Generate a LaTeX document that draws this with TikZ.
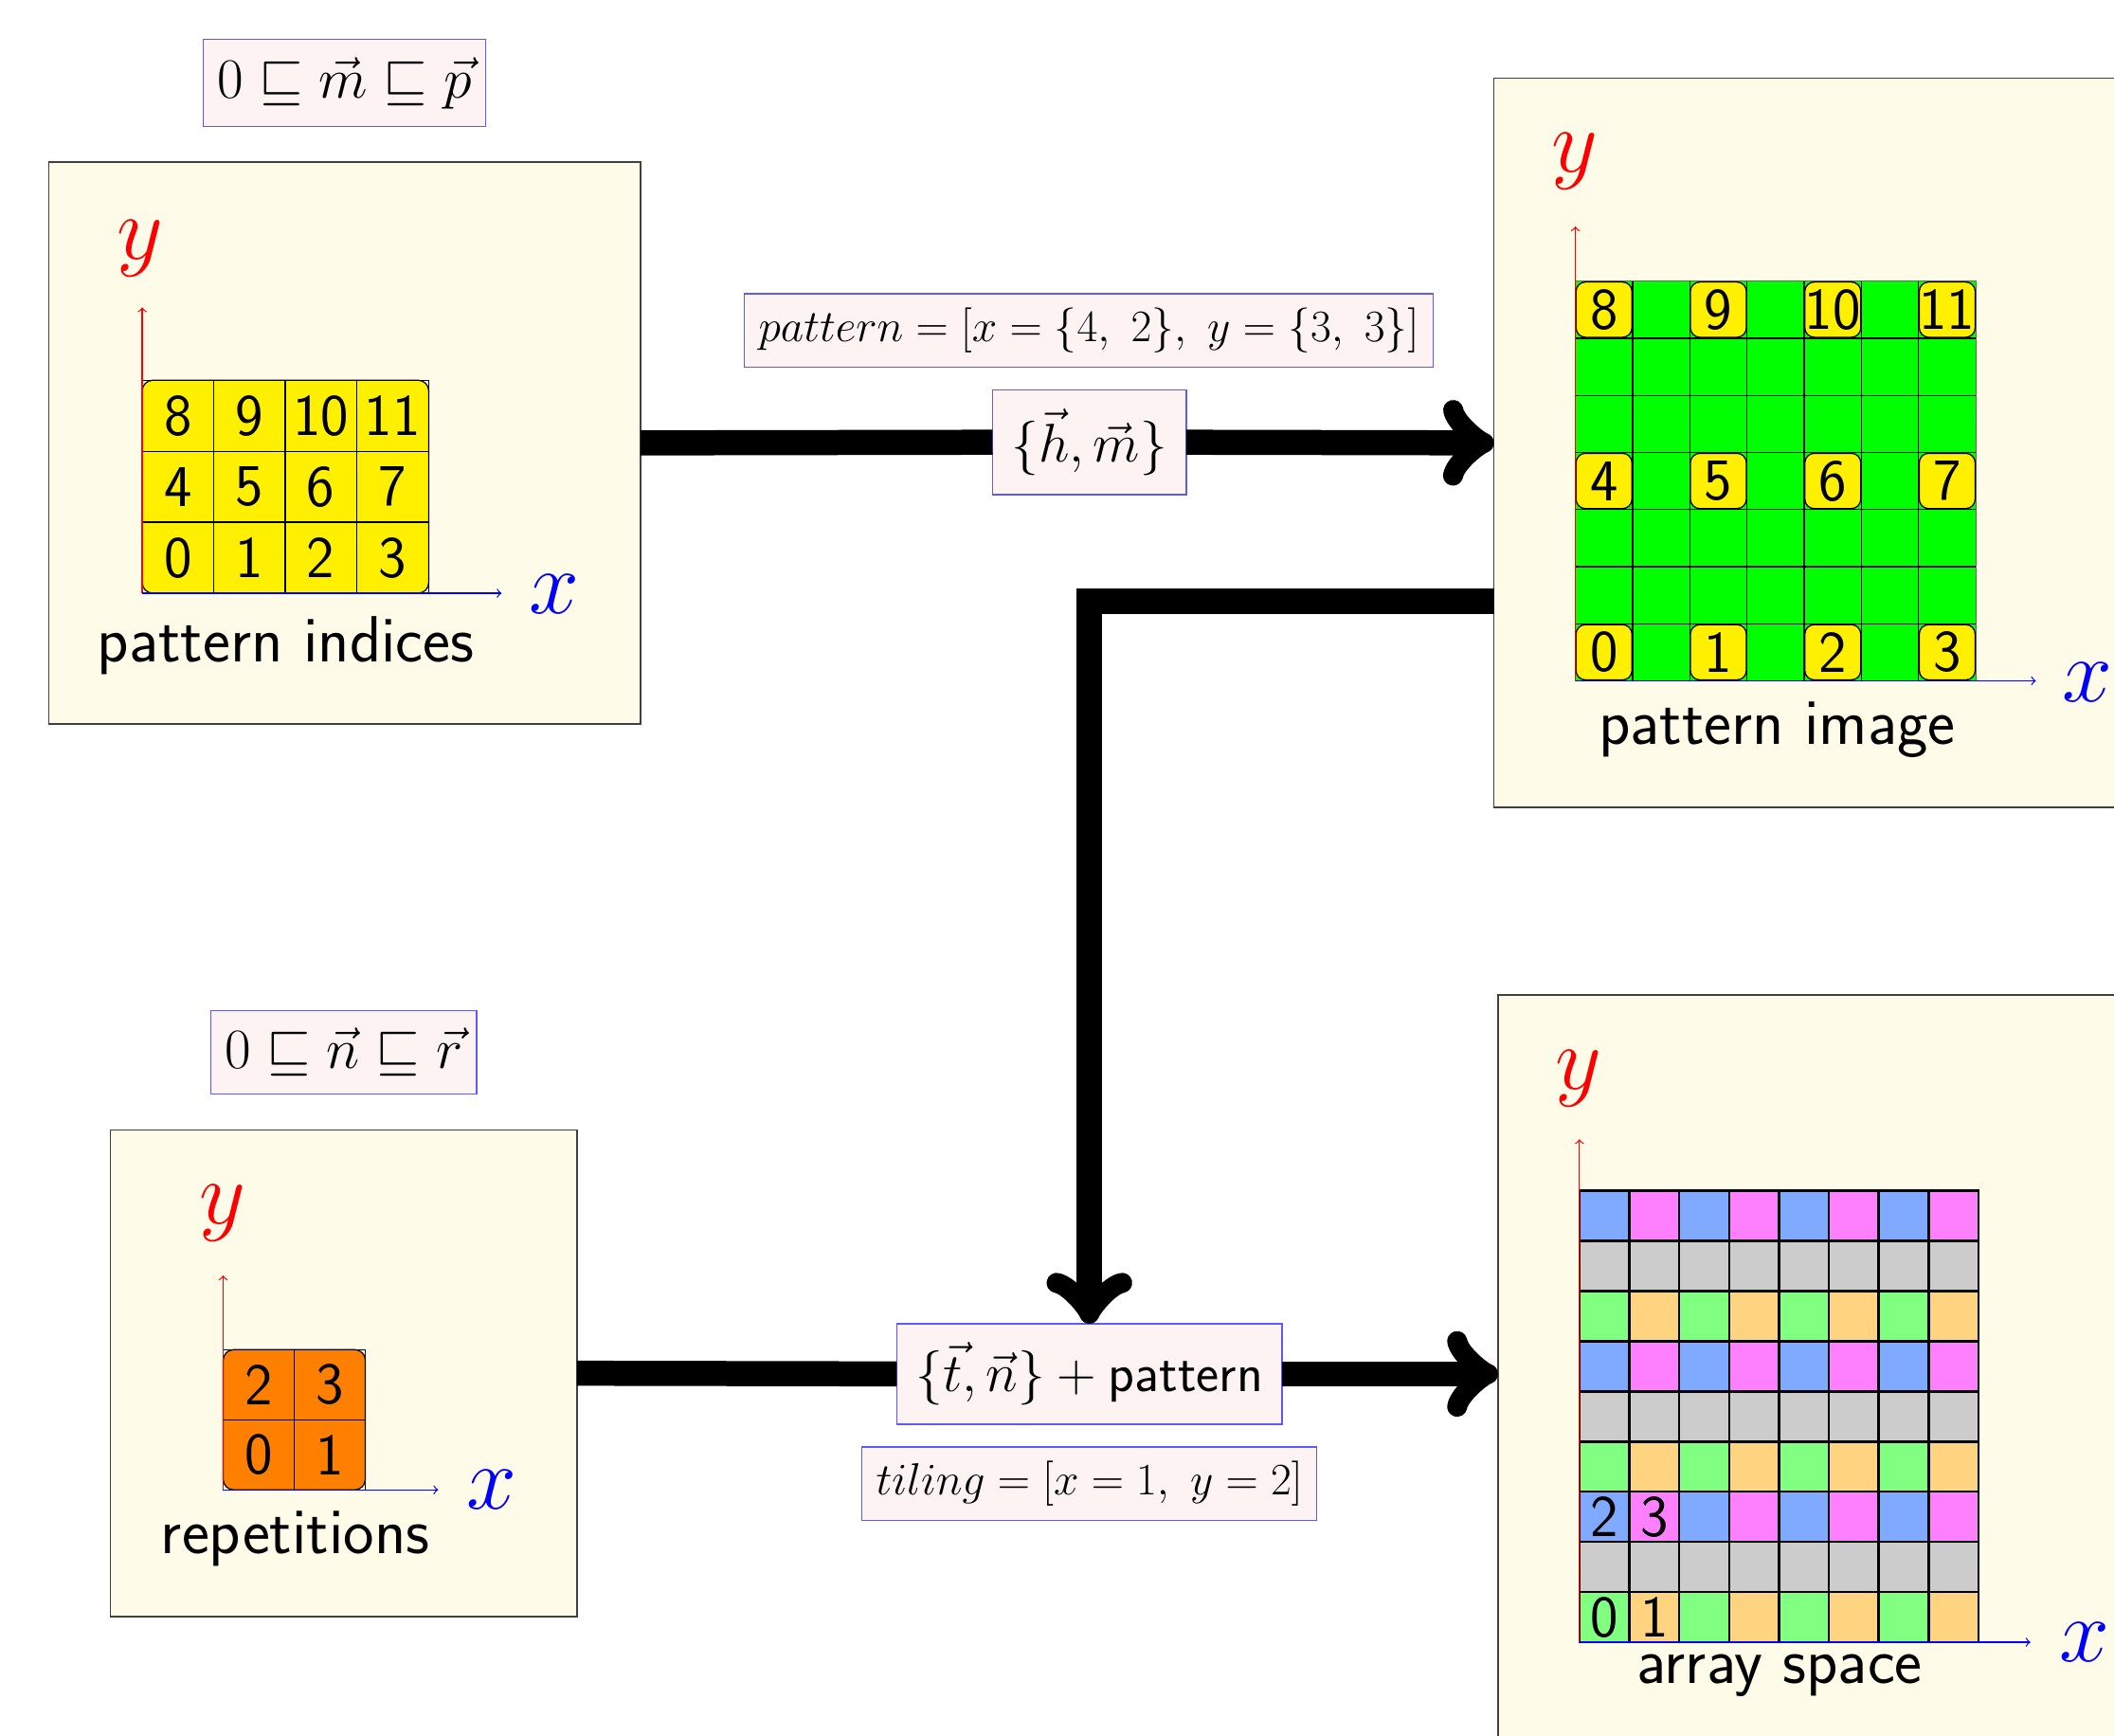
\documentclass[tikz,border=0pt]{standalone}
\usepackage{fix-cm}
\definecolor{cream}{RGB}{254,251,233}
\definecolor{lblpink}{RGB}{253,243,243}
\definecolor{lblblue}{RGB}{90,90,255}
\definecolor{cyel}{RGB}{255,240,0}
\definecolor{cgreen}{RGB}{0,255,0}
\definecolor{corange}{RGB}{255,128,0}
\definecolor{tblue}{RGB}{128,170,255}
\definecolor{tpink}{RGB}{255,128,255}
\definecolor{tgreen}{RGB}{128,255,128}
\definecolor{torange}{RGB}{255,212,128}
\definecolor{tgray}{RGB}{204,204,204}
\tikzset{
  panel/.style={draw=black!75, fill=cream, line width=0.6pt, inner sep=0pt, outer sep=0pt},
  lbl/.style={draw=lblblue, fill=lblpink, line width=0.6pt, inner xsep=6pt, inner ysep=7.5pt, outer sep=0pt,
    font=\fontsize{24}{28}\selectfont},
  lblsmall/.style={lbl, inner ysep=6pt, font=\fontsize{19}{23}\selectfont},
  lblbig/.style={lbl, inner sep=8pt, font=\fontsize{23}{28}\selectfont},
  flow/.style={line width=10.6pt},
  flowarrow/.style={flow, ->},
  axx/.style={blue, ->, line width=0.5pt},
  axy/.style={red, ->, line width=0.5pt},
  axlbl/.style={font=\fontsize{38}{40}\selectfont, inner sep=0pt},
  capt/.style={font=\sffamily\fontsize{27.6}{32}\selectfont, inner sep=0pt},
  num/.style={font=\sffamily\fontsize{25}{28}\selectfont, inner sep=0pt},
  gridline/.style={draw=black, line width=0.5pt},
  ybox/.style={draw=black, line width=0.5pt, fill=cyel, rounded corners=4pt,
    minimum width=0.83cm, minimum height=0.82cm, inner sep=0pt,
    font=\sffamily\fontsize{25}{28}\selectfont},
  tcell/.style={draw=black, line width=1pt},
}
\begin{document}
\begin{tikzpicture}[x=0.02cm,y=-0.02cm]
\useasboundingbox (0,0) rectangle (1568,1287);
\clip (0,0) rectangle (1568,1287);

% ---------- panels ----------
\node[panel, minimum width=8.78cm, minimum height=8.34cm] (A) at (255.5,328.5) {};
\node[panel, minimum width=11.2cm, minimum height=10.82cm] (B) at (1388,328.5) {};
\node[panel, minimum width=6.92cm, minimum height=7.22cm] (C) at (255,1018.5) {};
\node[panel, minimum width=11.2cm, minimum height=11.24cm] (D) at (1391,1019) {};

% ---------- panel A: pattern indices ----------
\draw[line width=0.4pt] (105.5,282) rectangle (318,440);
\draw[fill=cyel, line width=0.5pt, rounded corners=4.5pt] (105.5,282) rectangle (318,440);
\foreach \i in {1,2,3} \draw[gridline] (105.5+53*\i,282) -- (105.5+53*\i,440);
\foreach \j in {1,2} \draw[gridline] (105.5,440-52.67*\j) -- (318,440-52.67*\j);
\foreach \r in {0,1,2} {
  \foreach \c in {0,1,2,3} {
    \pgfmathtruncatemacro{\n}{4*\r+\c}
    \node[num] (a\n) at (105.5+53*\c+26.5, 440-52.67*\r-26.3) {\n};
  }
}
\draw[axy] (105.5,440) -- (105.5,228);
\draw[axx] (105.5,440) -- (372,440);
\node[axlbl, text=red] (Ay) at (104,184) {$y$};
\node[axlbl, text=blue] (Ax) at (411,441) {$x$};
\node[capt] (Acap) at (212,479) {pattern indices};

% ---------- panel B: pattern image ----------
\fill[cgreen] (1168.5,208.5) rectangle (1465.5,505);
\draw[line width=0.4pt, black!60] (1168.5,208.5) rectangle (1465.5,505);
\foreach \i in {1,...,6} \draw[gridline] (1168.5+42.43*\i,208.5) -- (1168.5+42.43*\i,505);
\foreach \j in {1,...,6} \draw[gridline] (1168.5,505-42.36*\j) -- (1465.5,505-42.36*\j);
\foreach \r in {0,1,2} {
  \foreach \c in {0,1,2,3} {
    \pgfmathtruncatemacro{\n}{4*\r+\c}
    \node[ybox] (b\n) at (1168.5+84.86*\c+21.2, 505-127.08*\r-21.2) {\n};
  }
}
\draw[axy] (1168.5,505) -- (1168.5,168);
\draw[axx] (1168.5,505) -- (1510,505);
\node[axlbl, text=red] (By) at (1168,120) {$y$};
\node[axlbl, text=blue] (Bx) at (1548,506) {$x$};
\node[capt] (Bcap) at (1318,541) {pattern image};

% ---------- panel C: repetitions ----------
\draw[line width=0.4pt] (165.5,1001) rectangle (271,1105);
\draw[fill=corange, line width=0.5pt, rounded corners=4.5pt] (165.5,1001) rectangle (271,1105);
\draw[gridline] (218.25,1001) -- (218.25,1105);
\draw[gridline] (165.5,1053) -- (271,1053);
\foreach \r in {0,1} {
  \foreach \c in {0,1} {
    \pgfmathtruncatemacro{\n}{2*\r+\c}
    \node[num] (c\n) at (165.5+52.75*\c+26.4, 1105-52*\r-26) {\n};
  }
}
\draw[axy] (165.5,1105) -- (165.5,946);
\draw[axx] (165.5,1105) -- (325,1105);
\node[axlbl, text=red] (Cy) at (165,900) {$y$};
\node[axlbl, text=blue] (Cx) at (365,1105) {$x$};
\node[capt] (Ccap) at (219,1141) {repetitions};

% ---------- panel D: array space ----------
\foreach \r in {0,...,8} {
  \foreach \c in {0,...,7} {
    \pgfmathtruncatemacro{\rm}{mod(\r,3)}
    \pgfmathtruncatemacro{\cm}{mod(\c,2)}
    \ifnum\rm=1
      \def\cc{tgray}
    \else
      \ifnum\rm=0
        \ifnum\cm=0 \def\cc{tgreen}\else \def\cc{torange}\fi
      \else
        \ifnum\cm=0 \def\cc{tblue}\else \def\cc{tpink}\fi
      \fi
    \fi
    \draw[tcell, fill=\cc] (1171.5+37*\c,1218-37.2*\r) rectangle ++(37,-37.2);
  }
}
\node[num] (d0) at (1171.5+18.5,1218-18.6) {0};
\node[num] (d1) at (1171.5+55.5,1218-18.6) {1};
\node[num] (d2) at (1171.5+18.5,1218-93) {2};
\node[num] (d3) at (1171.5+55.5,1218-93) {3};
\draw[axy] (1171.5,1218) -- (1171.5,845);
\draw[axx] (1171.5,1218) -- (1506,1218);
\node[axlbl, text=red] (Dy) at (1171,800) {$y$};
\node[axlbl, text=blue] (Dx) at (1546,1218) {$x$};
\node[capt] (Dcap) at (1320,1243) {array space};

% ---------- labels ----------
\node[lbl] (LM) at (255.5,61.5) {$0 \sqsubseteq \vec{m} \sqsubseteq \vec{p}$};
\node[lbl] (LN) at (255,780.5) {$0 \sqsubseteq \vec{n} \sqsubseteq \vec{r}$};
\node[lblsmall] (LP) at (807.5,245) {$pattern = [x = \{4,\ 2\},\ y = \{3,\ 3\}]$};
\node[lblsmall] (LT) at (808,1100.5) {$tiling = [x = 1,\ y = 2]$};
\node[lblbig] (HM) at (808,328) {$\{\vec{h}, \vec{m}\}$};
\node[lblbig] (T) at (808,1019) {$\{\vec{t}, \vec{n}\} + \mbox{\sffamily pattern}$};

% ---------- connectors ----------
\draw[flow] (A.east) -- (HM.west);
\draw[flowarrow] (HM.east) -- (B.west);
\draw[flow] (C.east) -- (T.west);
\draw[flowarrow] (T.east) -- (D.west);
\draw[flowarrow] (B.west |- 0,446) -| (T.north);
\end{tikzpicture}
\end{document}
